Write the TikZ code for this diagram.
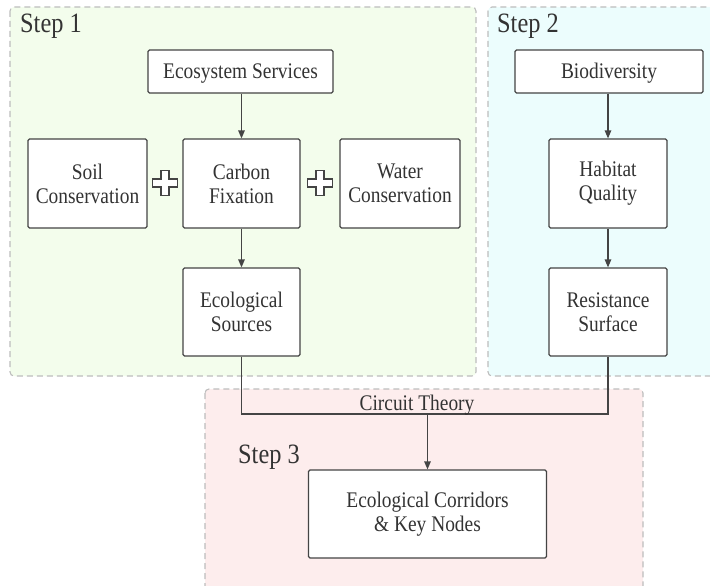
\documentclass[tikz,border=0pt]{standalone}
\usepackage{fontspec}
\setmainfont[FakeStretch=0.87]{Liberation Serif}
\usetikzlibrary{arrows.meta}
\definecolor{txt}{HTML}{333333}
\definecolor{boxline}{HTML}{444444}
\definecolor{frameline}{HTML}{BDBDBD}
\definecolor{fillA}{HTML}{F3FDEC}
\definecolor{fillB}{HTML}{ECFDFD}
\definecolor{fillC}{HTML}{FDEDED}
\tikzset{
  frame/.style={draw=frameline, line width=1.1pt, dash pattern=on 6pt off 4pt, rounded corners=4pt},
  procbox/.style={draw=boxline, fill=white, line width=1.2pt, rounded corners=1.5pt, align=center,
    inner sep=0pt, text=txt, font=\fontsize{22.3}{24}\selectfont},
  oneline/.style={text depth=0pt, text height=15pt},
  steplabel/.style={anchor=base west, inner sep=0pt, text=txt, font=\fontsize{28}{30}\selectfont},
  conn/.style={draw=boxline, line width=1.2pt},
  arr/.style={conn, -{Triangle[length=8pt,width=6.5pt]}},
  plussign/.style={draw=boxline, fill=white, line width=1.1pt}
}
\begin{document}
\begin{tikzpicture}[x=1pt,y=-1pt]
\useasboundingbox (0,0) rectangle (710,586);
\begin{scope}
\clip (0,0) rectangle (710,586);
% frames
\draw[frame, fill=fillA] (10,7) rectangle (476,376);
\draw[frame, fill=fillB] (488,7) rectangle (718,376);
\draw[frame, fill=fillC] (205,389) rectangle (643,598);
\end{scope}
\node[steplabel] (s1) at (20,33) {Step 1};
\node[steplabel] (s2) at (497,33) {Step 2};
\node[steplabel] (s3) at (238,463) {Step 3};
% boxes
\node[procbox, oneline, minimum width=185pt, minimum height=43pt] (es) at (240.5,71.5) {Ecosystem Services};
\node[procbox, minimum width=119pt, minimum height=89pt] (soil) at (87.5,183.5) {Soil\\Conservation};
\node[procbox, minimum width=117pt, minimum height=89pt] (carbon) at (241.5,183.5) {Carbon\\Fixation};
\node[procbox, minimum width=120pt, minimum height=89pt] (water) at (400,183.5) {Water\\Conservation};
\node[procbox, minimum width=117pt, minimum height=88pt] (src) at (241.5,312) {Ecological\\Sources};
\node[procbox, oneline, minimum width=188pt, minimum height=43pt] (bio) at (609,71.5) {Biodiversity};
\node[procbox, minimum width=118pt, minimum height=89pt] (hab) at (608,183.5) {Habitat\\Quality};
\node[procbox, minimum width=118pt, minimum height=88pt] (res) at (608,312) {Resistance\\Surface};
\node[procbox, minimum width=238pt, minimum height=88pt] (cor) at (427.5,514) {Ecological Corridors\\\& Key Nodes};
% plus signs
\foreach \cx/\nm in {165/p1, 320/p2}{
  \draw[plussign] (\cx-4,183-12.5) -- (\cx+4,183-12.5) -- (\cx+4,183-4) -- (\cx+12.5,183-4)
    -- (\cx+12.5,183+4) -- (\cx+4,183+4) -- (\cx+4,183+12.5) -- (\cx-4,183+12.5)
    -- (\cx-4,183+4) -- (\cx-12.5,183+4) -- (\cx-12.5,183-4) -- (\cx-4,183-4) -- cycle;
}
% arrows
\draw[arr] (es.south -| carbon.north) -- (carbon.north);
\draw[arr] (carbon) -- (src);
\draw[arr] (bio.south -| hab.north) -- (hab.north);
\draw[arr] (hab) -- (res);
% circuit theory connector
\coordinate (jl) at (241.5,414);
\coordinate (jr) at (608,414);
\coordinate (jm) at (427.5,414);
\draw[conn] (src.south) -- (jl) -- (jr) -- (res.south);
\draw[arr] (jm) -- (cor.north);
\node[anchor=base, inner sep=0pt, text=txt, font=\fontsize{22.3}{24}\selectfont] (ct) at (417,410) {Circuit Theory};
\end{tikzpicture}
\end{document}
